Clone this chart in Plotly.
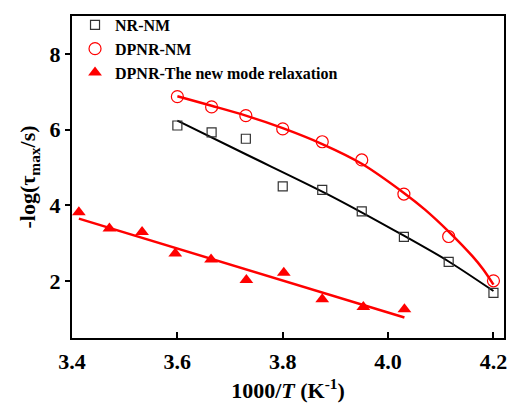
import plotly.graph_objects as go

# Measured data
x_nm = [3.60, 3.665, 3.73, 3.80, 3.875, 3.95, 4.03, 4.115, 4.20]
nr_nm = [6.11, 5.93, 5.76, 4.50, 4.41, 3.84, 3.17, 2.51, 1.69]
dpnr_nm = [6.87, 6.60, 6.37, 6.02, 5.68, 5.20, 4.30, 3.18, 2.01]

x_new = [3.413, 3.471, 3.533, 3.596, 3.664, 3.731, 3.802, 3.875, 3.953, 4.031]
dpnr_new = [3.82, 3.39, 3.30, 2.73, 2.57, 2.03, 2.22, 1.52, 1.32, 1.26]

# Fit curves
fit_nr_x = [3.60, 3.73, 3.89, 4.03, 4.115, 4.20]
fit_nr_y = [6.24, 5.35, 4.26, 3.20, 2.52, 1.74]

fit_dp_x = [3.60, 3.665, 3.73, 3.80, 3.875, 3.95, 4.03, 4.07, 4.115, 4.16, 4.18, 4.20]
fit_dp_y = [6.88, 6.63, 6.37, 6.04, 5.62, 5.10, 4.33, 3.89, 3.31, 2.66, 2.32, 1.91]

fit_new_x = [3.413, 4.031]
fit_new_y = [3.65, 1.04]

FONT = "Liberation Serif"
RED = "#ff0000"

fig = go.Figure()
fig.add_trace(go.Scatter(x=fit_nr_x, y=fit_nr_y, mode="lines", line=dict(color="black", width=2, shape="spline", smoothing=0.8), showlegend=False))
fig.add_trace(go.Scatter(x=fit_dp_x, y=fit_dp_y, mode="lines", line=dict(color=RED, width=2.5, shape="spline", smoothing=0.8), showlegend=False))
fig.add_trace(go.Scatter(x=fit_new_x, y=fit_new_y, mode="lines", line=dict(color=RED, width=2.5), showlegend=False))

fig.add_trace(go.Scatter(x=x_nm, y=nr_nm, mode="markers", name="NR-NM",
                         marker=dict(symbol="square-open", size=9, color="#333333", line=dict(width=1.2))))
fig.add_trace(go.Scatter(x=x_nm, y=dpnr_nm, mode="markers", name="DPNR-NM",
                         marker=dict(symbol="circle-open", size=12, color=RED, line=dict(width=1.2))))
fig.add_trace(go.Scatter(x=x_new, y=dpnr_new, mode="markers", name="DPNR-The new mode relaxation",
                         marker=dict(symbol="triangle-up", size=12, color=RED)))

fig.update_layout(
    width=508, height=403,
    margin=dict(l=72, r=4, t=16, b=65),
    paper_bgcolor="white", plot_bgcolor="white",
    font=dict(family=FONT, size=22, color="black", weight="bold"),
    showlegend=True,
    legend=dict(x=0.007, y=1.025, xanchor="left", yanchor="top", bgcolor="rgba(0,0,0,0)",
                font=dict(size=16, family=FONT, weight="bold"), tracegroupgap=0, itemwidth=30),
    xaxis=dict(range=[3.4, 4.22], tickvals=[3.4, 3.6, 3.8, 4.0, 4.2], ticktext=["3.4", "3.6", "3.8", "4.0", "4.2"],
               showgrid=False, zeroline=False, showline=True, linecolor="black", linewidth=2, mirror=True,
               ticks="inside", ticklen=6, tickwidth=1.5, tickcolor="black", ticklabelstandoff=3, automargin=False,
               title=dict(text="1000/<i>T</i> (K<sup>-1</sup>)", font=dict(size=22), standoff=16)),
    yaxis=dict(range=[0.5, 9.0], tickvals=[2, 4, 6, 8], ticktext=["2", "4", "6", "8"],
               showgrid=False, zeroline=False, showline=True, linecolor="black", linewidth=2, mirror=True,
               ticks="outside", ticklen=5, tickwidth=1.5, tickcolor="black", automargin=False,
               title=dict(text="-log(τ<sub>max</sub>/s)", font=dict(size=22), standoff=8)),
)

fig.write_html("out.html", config={"displayModeBar": False},
               post_script="document.body.style.margin='0';document.body.style.padding='0';document.body.style.overflow='hidden';")
